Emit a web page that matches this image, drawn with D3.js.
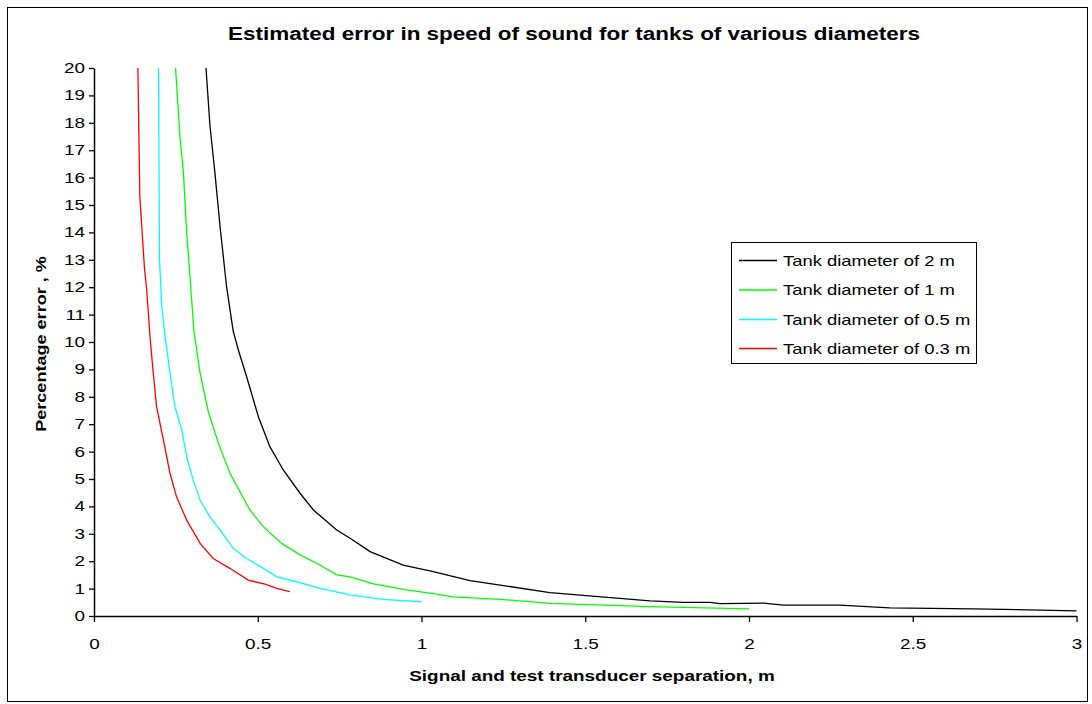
<!DOCTYPE html>
<html><head><meta charset="utf-8">
<script src="https://cdn.jsdelivr.net/npm/d3@7"></script>
<style>body{margin:0;background:#fff}svg{display:block}text{font-family:"Liberation Sans",Arial,sans-serif}</style>
</head><body><svg id="c" width="1092" height="704"></svg>
<script>
const title = "Estimated error in speed of sound for tanks of various diameters";
const xTitle = "Signal and test transducer separation, m";
const yTitle = "Percentage error , %";
const xTicks = [0, 0.5, 1, 1.5, 2, 2.5, 3];
const yTicks = d3.range(0, 21, 1);
const seriesNames = ["Tank diameter of 2 m","Tank diameter of 1 m","Tank diameter of 0.5 m","Tank diameter of 0.3 m"];
const seriesColors = ["#000000","#00ff00","#00ffff","#ff0000"];
const d2m = [[0.342,20],[0.354,17.9],[0.369,16.2],[0.385,14.2],[0.405,12.0],[0.425,10.4],[0.441,9.7],[0.466,8.73],[0.502,7.27],[0.537,6.18],[0.578,5.33],[0.629,4.48],[0.67,3.87],[0.741,3.14],[0.782,2.84],[0.843,2.35],[0.944,1.86],[1.036,1.62],[1.148,1.29],[1.24,1.13],[1.392,0.85],[1.698,0.55],[1.80,0.50],[1.881,0.50],[1.911,0.45],[2.044,0.47],[2.105,0.40],[2.278,0.40],[2.43,0.30],[2.685,0.26],[3.0,0.19]];
const d1m = [[0.249,20],[0.263,17.4],[0.273,16.2],[0.283,14.0],[0.293,12.4],[0.305,10.4],[0.324,8.86],[0.349,7.46],[0.380,6.3],[0.415,5.21],[0.476,3.87],[0.517,3.26],[0.573,2.65],[0.629,2.23],[0.69,1.86],[0.741,1.50],[0.782,1.43],[0.853,1.17],[0.955,0.95],[1.046,0.80],[1.097,0.70],[1.24,0.61],[1.392,0.46],[1.698,0.34],[2.0,0.26]];
const d05m = [[0.197,20],[0.2,13],[0.207,11.3],[0.215,10.4],[0.232,8.86],[0.247,7.64],[0.268,6.79],[0.283,5.81],[0.303,4.96],[0.324,4.23],[0.354,3.62],[0.385,3.14],[0.425,2.47],[0.466,2.1],[0.517,1.74],[0.558,1.43],[0.619,1.25],[0.69,1.01],[0.782,0.77],[0.883,0.61],[1.0,0.52]];
const d03m = [[0.134,20],[0.140,15.3],[0.154,12.7],[0.161,11.9],[0.171,10.2],[0.181,8.86],[0.191,7.64],[0.212,6.42],[0.232,5.21],[0.252,4.35],[0.283,3.50],[0.324,2.65],[0.364,2.1],[0.415,1.74],[0.471,1.31],[0.522,1.16],[0.558,1.01],[0.598,0.89]];
const seriesData = [d2m, d1m, d05m, d03m];

const svg = d3.select("#c");
svg.append("rect").attr("x",7.5).attr("y",7.5).attr("width",1080).attr("height",694)
  .attr("fill","#fff").attr("stroke","#000").attr("stroke-width",1);

const x = d3.scaleLinear().domain([0,3]).range([94,1076.5]);
const y = d3.scaleLinear().domain([0,20]).range([616,68]);

function stretch(sel, f){
  sel.each(function(){
    const w = this.getComputedTextLength();
    d3.select(this).attr("textLength", w*f).attr("lengthAdjust","spacingAndGlyphs");
  });
}

svg.append("text").attr("x",574).attr("y",40).attr("text-anchor","middle")
  .attr("font-size",18).attr("font-weight","bold").text(title)
  .attr("textLength",692).attr("lengthAdjust","spacingAndGlyphs");

const xa = svg.append("g").attr("transform","translate(0,616)")
  .call(d3.axisBottom(x).tickValues(xTicks).tickSize(6).tickSizeOuter(0).tickFormat(d3.format("")));
xa.select(".domain").attr("stroke-width",1.5);
xa.selectAll(".tick line").attr("stroke-width",1.3);
xa.selectAll("text").attr("font-size",14).attr("y",23).attr("dy","0.71em").attr("fill","#000");
stretch(xa.selectAll("text"),1.35);

const ya = svg.append("g").attr("transform","translate(94,0)")
  .call(d3.axisLeft(y).tickValues(yTicks).tickSize(5).tickSizeOuter(0));
ya.select(".domain").attr("stroke-width",1.5);
ya.selectAll(".tick line").attr("stroke-width",1.3);
ya.selectAll("text").attr("font-size",14).attr("x",-9).attr("fill","#000");
stretch(ya.selectAll("text"),1.35);

const xt = svg.append("text").attr("x",592).attr("y",681).attr("text-anchor","middle")
  .attr("font-size",14).attr("font-weight","bold").text(xTitle);
stretch(xt,1.35);
const yt = svg.append("text").attr("transform","translate(46,344) rotate(-90)").attr("text-anchor","middle")
  .attr("font-size",14).attr("font-weight","bold").text(yTitle);
stretch(yt,1.29);

const line = d3.line().x(d=>x(d[0])).y(d=>y(d[1]));
seriesData.forEach((s,i)=>{
  svg.append("path").datum(s).attr("d",line).attr("fill","none")
    .attr("stroke",seriesColors[i]).attr("stroke-width",1.3);
});

const lg = svg.append("g");
lg.append("rect").attr("x",731.5).attr("y",242.5).attr("width",245).attr("height",121)
  .attr("fill","#fff").attr("stroke","#000").attr("stroke-width",1);
const ly = [260.5,290,319.5,348.5];
seriesNames.forEach((n,i)=>{
  lg.append("line").attr("x1",739).attr("x2",777).attr("y1",ly[i]).attr("y2",ly[i])
    .attr("stroke",seriesColors[i]).attr("stroke-width",1.3);
  const t = lg.append("text").attr("x",783).attr("y",ly[i]+5).attr("font-size",14.5).text(n);
  stretch(t,1.27);
});
</script></body></html>
